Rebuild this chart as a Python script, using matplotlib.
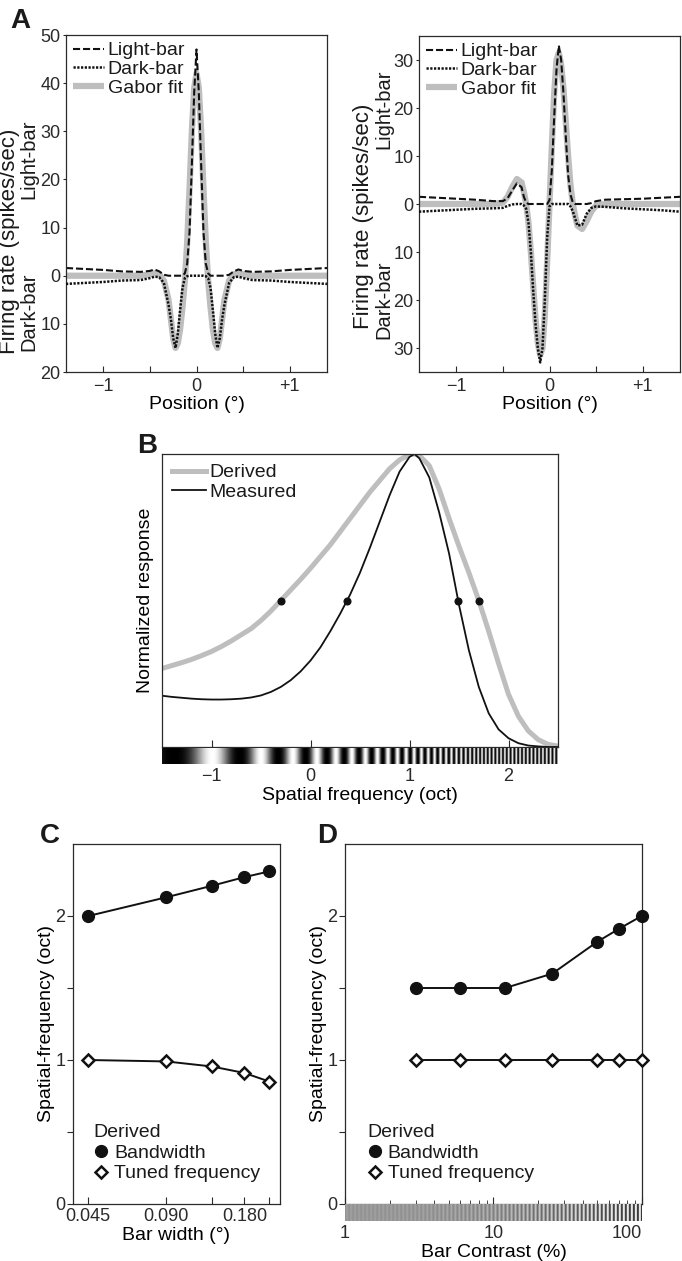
import numpy as np
import matplotlib
matplotlib.use('Agg')
import matplotlib.pyplot as plt
from matplotlib.lines import Line2D
from matplotlib.ticker import FixedLocator, FuncFormatter, NullLocator

plt.rcParams['font.family'] = ['Liberation Sans', 'DejaVu Sans']
plt.rcParams['font.size'] = 13
plt.rcParams['axes.labelsize'] = 14
plt.rcParams['legend.fontsize'] = 14
plt.rcParams['axes.linewidth'] = 0.9
plt.rcParams['axes.edgecolor'] = '#2a2a2a'
plt.rcParams['text.color'] = '#1a1a1a'
plt.rcParams['xtick.color'] = '#2a2a2a'
plt.rcParams['ytick.color'] = '#2a2a2a'

GREY = '#bebebe'

# ---------------- panel A: position tuning (deg) ----------------
pos = [-1.4, -1.2, -1.0, -0.8, -0.6, -0.5, -0.45, -0.4, -0.35, -0.3, -0.275, -0.25,
       -0.225, -0.2, -0.175, -0.15, -0.125, -0.1, -0.075, -0.05, -0.025, 0.0,
       0.025, 0.05, 0.075, 0.1, 0.125, 0.15, 0.175, 0.2, 0.225, 0.25, 0.275, 0.3,
       0.35, 0.4, 0.45, 0.5, 0.6, 0.8, 1.0, 1.2, 1.4]

# left cell
light_l = [1.6, 1.4, 1.2, 0.9, 0.8, 1.0, 1.3, 0.9, 0.2, 0, 0, 0,
           0, 0, 0, 0, 0.5, 2.5, 9, 23, 38, 47,
           38, 23, 9, 2.5, 0.5, 0, 0, 0, 0, 0, 0, 0,
           0.2, 0.9, 1.3, 1.0, 0.8, 0.9, 1.2, 1.4, 1.6]
dark_l = [-1.7, -1.5, -1.3, -1.0, -0.9, -0.5, -0.2, -0.3, -1.5, -6, -9, -13,
          -15, -12, -7, -2.5, -0.5, -0.1, 0, 0, 0, 0,
          0, 0, 0, -0.1, -0.5, -2.5, -7, -12, -15, -13, -9, -6,
          -1.5, -0.3, -0.2, -0.5, -0.9, -1.0, -1.3, -1.5, -1.7]
gabor_l = [0, 0, 0, 0, 0, 0.3, 0.5, 0.3, -1, -5, -9, -13,
           -15, -14, -11, -6.5, -1, 7, 18, 30, 39, 42,
           39, 30, 18, 7, -1, -6.5, -11, -14, -15, -13, -9, -5,
           -1, 0.3, 0.5, 0.3, 0, 0, 0, 0, 0]

# right cell
light_r = [1.5, 1.3, 1.1, 0.9, 0.6, 0.6, 1.2, 2.8, 4.3, 3.5, 1.5, 0.3,
           0, 0, 0, 0, 0, 0, 0, 0, 0, 0.8,
           7, 18, 28, 33, 30, 23, 14, 6, 2, 0.3, 0, 0,
           0, 0, 0.2, 0.6, 0.9, 1.0, 1.1, 1.3, 1.5]
dark_r = [-1.6, -1.4, -1.2, -1.0, -0.9, -0.8, -0.4, -0.1, 0, 0, -0.3, -1,
          -4, -10, -18, -25, -30, -33, -30, -20, -7, -0.5,
          0, 0, 0, 0, 0, 0, 0, 0, -0.5, -1.5, -3, -4.5,
          -4.3, -2, -0.8, -0.5, -0.6, -0.9, -1.1, -1.3, -1.6]
gabor_r = [0, 0, 0, 0, 0, 0.3, 1.5, 3.5, 5.2, 4.5, 2.5, 0,
           -4, -10, -17, -24, -29, -31.5, -30, -23, -12, 0,
           12, 23, 30, 31.5, 29, 24, 17, 10, 4, 0, -2.5, -4.5,
           -5.2, -3.5, -1.5, -0.3, 0, 0, 0, 0, 0]

# ---------------- panel B: spatial frequency tuning (oct) ----------------
sf_derived = [-1.5, -1.4, -1.3, -1.2, -1.1, -1.0, -0.9, -0.8, -0.7, -0.6, -0.5, -0.4,
              -0.3, -0.2, -0.1, 0.0, 0.1, 0.2, 0.3, 0.4, 0.5, 0.6, 0.7, 0.8,
              0.9, 1.0, 1.05, 1.1, 1.2, 1.3, 1.4, 1.5, 1.6, 1.7, 1.8, 1.9,
              2.0, 2.1, 2.2, 2.3, 2.4, 2.5]
resp_derived = [0.268, 0.278, 0.288, 0.299, 0.312, 0.326, 0.343, 0.362, 0.383, 0.404, 0.432, 0.464,
                0.50, 0.536, 0.572, 0.61, 0.65, 0.69, 0.735, 0.78, 0.825, 0.87, 0.91, 0.95,
                0.98, 0.998, 1.0, 0.995, 0.96, 0.88, 0.78, 0.685, 0.595, 0.50, 0.395, 0.285,
                0.18, 0.105, 0.055, 0.025, 0.009, 0.003]
sf_measured = [-1.5, -1.4, -1.3, -1.2, -1.1, -1.0, -0.9, -0.8, -0.7, -0.6, -0.5, -0.4,
               -0.3, -0.2, -0.1, 0.0, 0.1, 0.2, 0.3, 0.4, 0.5, 0.6, 0.7, 0.8,
               0.9, 1.0, 1.05, 1.1, 1.2, 1.3, 1.4, 1.5, 1.6, 1.7, 1.8, 1.9,
               2.0, 2.1, 2.2, 2.3, 2.4, 2.5]
resp_measured = [0.175, 0.171, 0.168, 0.165, 0.163, 0.162, 0.162, 0.163, 0.165, 0.169, 0.176, 0.188,
                 0.205, 0.228, 0.258, 0.295, 0.34, 0.395, 0.455, 0.52, 0.595, 0.68, 0.77, 0.86,
                 0.94, 0.99, 1.0, 0.985, 0.92, 0.80, 0.66, 0.485, 0.33, 0.205, 0.115, 0.06,
                 0.03, 0.013, 0.005, 0.002, 0.0, 0.0]
half_derived = [-0.30, 1.70]
half_measured = [0.37, 1.49]

# ---------------- panel C: bar width ----------------
bar_width = [0.045, 0.090, 0.135, 0.180, 0.225]
c_bandwidth = [2.0, 2.13, 2.21, 2.27, 2.31]
c_tuned = [1.0, 0.99, 0.955, 0.91, 0.85]

# ---------------- panel D: bar contrast ----------------
contrast = [3, 6, 12, 25, 50, 70, 100]
d_bandwidth = [1.5, 1.5, 1.5, 1.6, 1.82, 1.91, 2.0]
d_tuned = [1.0, 1.0, 1.0, 1.0, 1.0, 1.0, 1.0]


W, H = 682, 1261
fig = plt.figure(figsize=(W / 100, H / 100), dpi=100)


def box(l, t, r, b):
    return [l / W, 1 - b / H, (r - l) / W, (b - t) / H]


def panel_a(rect, light, dark, gabor, ylim, yticks):
    ax = fig.add_axes(rect)
    ax.plot(pos, gabor, color=GREY, lw=4.5, solid_capstyle='butt', label='Gabor fit', zorder=1)
    ax.plot(pos, light, color='#111111', lw=1.5, linestyle=(0, (3.4, 1.4)), label='Light-bar', zorder=2)
    ax.plot(pos, dark, color='#111111', lw=1.8, linestyle=(0, (0.9, 0.6)), label='Dark-bar', zorder=3)
    ax.set_xlim(-1.4, 1.4)
    ax.set_ylim(*ylim)
    ax.xaxis.set_major_locator(FixedLocator([-1, -0.5, 0, 0.5, 1]))
    ax.set_xticklabels(['\u22121', '', '0', '', '+1'])
    ax.yaxis.set_major_locator(FixedLocator(yticks))
    ax.yaxis.set_major_formatter(FuncFormatter(lambda v, p: '%d' % abs(round(v))))
    ax.tick_params(axis='x', direction='in', length=4, pad=4)
    ax.tick_params(axis='y', direction='out', length=2.5, pad=1.5)
    ax.set_xlabel('Position (\u00b0)', labelpad=1)
    h, lab = ax.get_legend_handles_labels()
    order = [1, 2, 0]
    ax.legend([h[i] for i in order], [lab[i] for i in order], loc='upper left',
              bbox_to_anchor=(0.0, 1.0), frameon=False,
              handlelength=1.6, handletextpad=0.2, labelspacing=0.05, borderaxespad=0.15,
              borderpad=0.2)
    return ax


panel_a(box(66, 35, 327, 372), light_l, dark_l, gabor_l, (-20, 50), range(-20, 51, 10))
panel_a(box(419, 36, 680, 372), light_r, dark_r, gabor_r, (-35, 35), range(-30, 31, 10))

fig.text(10 / W, 1 - 241 / H, 'Firing rate (spikes/sec)', rotation=90, ha='center', va='center',
         fontsize=16)
fig.text(29 / W, 1 - 159 / H, 'Light-bar', rotation=90, ha='center', va='center', fontsize=14.5)
fig.text(29 / W, 1 - 312 / H, 'Dark-bar', rotation=90, ha='center', va='center', fontsize=14.5)
fig.text(364 / W, 1 - 216 / H, 'Firing rate (spikes/sec)', rotation=90, ha='center', va='center',
         fontsize=16)
fig.text(384 / W, 1 - 109 / H, 'Light-bar', rotation=90, ha='center', va='center', fontsize=14.5)
fig.text(384 / W, 1 - 300 / H, 'Dark-bar', rotation=90, ha='center', va='center', fontsize=14.5)

# ---------------- B ----------------
axb = fig.add_axes(box(162, 454, 558, 747))
axb.plot(sf_derived, resp_derived, color=GREY, lw=3.6, label='Derived', zorder=1)
axb.plot(sf_measured, resp_measured, color='#111111', lw=1.3, label='Measured', zorder=2)
axb.plot(half_derived, [0.5, 0.5], 'o', color='#111111', ms=4.8, zorder=3)
axb.plot(half_measured, [0.5, 0.5], 'o', color='#111111', ms=4.8, zorder=3)
axb.set_xlim(-1.5, 2.5)
axb.set_ylim(0, 1.0)
axb.xaxis.set_major_locator(FixedLocator([-1, 0, 1, 2]))
axb.yaxis.set_major_locator(NullLocator())
axb.tick_params(axis='x', direction='in', length=5, labelbottom=False)
axb.set_ylabel('Normalized response', labelpad=6)
axb.legend(loc='upper left', frameon=False, handlelength=1.75,
           handletextpad=0.2, labelspacing=0.1, borderaxespad=0.25, borderpad=0.25)

# grating strip under B
axs = fig.add_axes(box(162, 748, 558, 764))
xs = np.linspace(-1.5, 2.5, 2400)
freq = np.minimum(4.37 * 2 ** (1.5 * xs), 26)
phase = 0.883 + np.cumsum(freq) * (xs[1] - xs[0])
lum = (0.5 - 0.5 * np.cos(2 * np.pi * phase)) ** 1.3
axs.imshow(lum[None, :], extent=(-1.5, 2.5, 0, 1), aspect='auto', cmap='gray',
           vmin=0, vmax=1, interpolation='antialiased')
axs.set_xlim(-1.5, 2.5)
axs.set_ylim(0, 1)
axs.set_yticks([])
axs.set_xticks([-1, 0, 1, 2])
axs.set_xticklabels(['\u22121', '0', '1', '2'])
axs.tick_params(axis='x', length=0, pad=3)
for s in axs.spines.values():
    s.set_visible(False)
axs.set_xlabel('Spatial frequency (oct)', labelpad=1)


# ---------------- C and D ----------------
def sf_axes(rect):
    ax = fig.add_axes(rect)
    ax.set_ylim(0, 2.5)
    ax.yaxis.set_major_locator(FixedLocator([0, 0.5, 1, 1.5, 2]))
    ax.set_yticklabels(['0', '', '1', '', '2'])
    ax.tick_params(axis='y', direction='out', length=4.5, pad=1)
    ax.set_ylabel('Spatial-frequency (oct)', labelpad=0)
    return ax


def sf_legend(ax, anchor):
    hb = Line2D([], [], ls='none', marker='o', ms=8.5, color='#111111')
    ht = Line2D([], [], ls='none', marker='D', ms=6, mfc='white', mec='#111111', mew=1.8)
    ax.legend([hb, ht], ['Bandwidth', 'Tuned frequency'], title='Derived', title_fontsize=14,
              alignment='left', loc='lower left', bbox_to_anchor=anchor, frameon=False,
              handlelength=0.8, handletextpad=0.25, labelspacing=0.15,
              borderpad=0, borderaxespad=0)


axc = sf_axes(box(73, 844, 280, 1204))
axc.set_xscale('log', base=2)
axc.plot(bar_width, c_bandwidth, '-o', color='#111111', lw=1.4, ms=8.5, zorder=3)
axc.plot(bar_width, c_tuned, '-D', color='#111111', lw=1.4, ms=6, mfc='white', mew=1.8, zorder=3)
axc.set_xlim(0.0393, 0.247)
axc.xaxis.set_major_locator(FixedLocator(bar_width))
axc.xaxis.set_minor_locator(NullLocator())
axc.set_xticklabels(['0.045', '0.090', '', '0.180', ''])
axc.tick_params(axis='x', direction='in', length=5, pad=3)
axc.set_xlabel('Bar width (\u00b0)', labelpad=1)
sf_legend(axc, (0.1, 0.06))

axd = sf_axes(box(345, 844, 642, 1204))
axd.set_xscale('log')
axd.plot(contrast, d_bandwidth, '-o', color='#111111', lw=1.4, ms=8.5, zorder=3, clip_on=False)
axd.plot(contrast, d_tuned, '-D', color='#111111', lw=1.4, ms=6, mfc='white', mew=1.8, zorder=3,
         clip_on=False)
axd.set_xlim(1, 100.5)
axd.tick_params(axis='x', which='major', direction='in', length=5, labelbottom=False)
axd.tick_params(axis='x', which='minor', direction='in', length=3, labelbottom=False)
sf_legend(axd, (0.075, 0.06))

# contrast strip under D
axe = fig.add_axes(box(345, 1204, 642, 1221))
u = np.linspace(0, np.log10(100.5), 1800)
amp = 0.03 + 0.52 * (u / 2.0) ** 2.6
lum_d = 0.6 - amp * np.cos(2 * np.pi * 74 * u / u[-1])
axe.imshow(lum_d[None, :], extent=(0, u[-1], 0, 1), aspect='auto', cmap='gray',
           vmin=0, vmax=1, interpolation='antialiased')
axe.set_xlim(0, u[-1])
axe.set_ylim(0, 1)
axe.set_yticks([])
axe.set_xticks([0, 1, 2])
axe.set_xticklabels(['1', '10', '100'])
axe.get_xticklabels()[-1].set_horizontalalignment('right')
axe.tick_params(axis='x', length=0, pad=3)
for s in axe.spines.values():
    s.set_visible(False)
axe.set_xlabel('Bar Contrast (%)', labelpad=1)

# panel letters
for x, y, t in [(10, 28, 'A'), (137, 453, 'B'), (40, 843, 'C'), (317, 843, 'D')]:
    fig.text(x / W, 1 - y / H, t, fontsize=20, fontweight='bold', ha='left', va='baseline')

fig.savefig('out.png', dpi=100)
